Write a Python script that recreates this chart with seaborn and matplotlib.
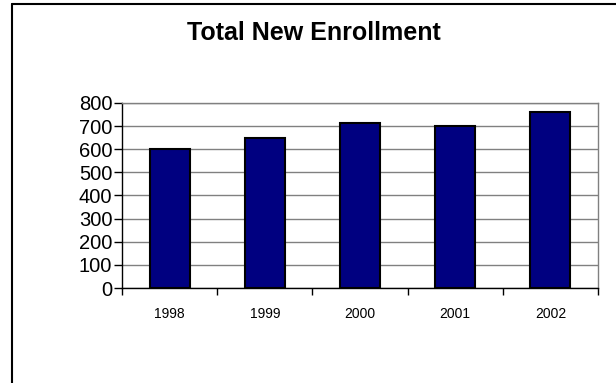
import matplotlib
matplotlib.use("Agg")
import matplotlib.pyplot as plt
from matplotlib.lines import Line2D
import seaborn as sns
import pandas as pd

# Chart data
years = ["1998", "1999", "2000", "2001", "2002"]
enrollment = [600, 650, 712, 702, 762]

sns.set_style("white")
plt.rcParams["font.family"] = ["Liberation Sans", "DejaVu Sans"]
plt.rcParams["text.color"] = "black"
plt.rcParams["xtick.color"] = "black"
plt.rcParams["ytick.color"] = "black"

df = pd.DataFrame({"Year": years, "Enrollment": enrollment})

fig = plt.figure(figsize=(6.16, 3.83), dpi=100)
ax = fig.add_axes([122 / 616, 1 - 288 / 383, (598 - 122) / 616, (288 - 103) / 383])

sns.barplot(data=df, x="Year", y="Enrollment", color="#000080",
            edgecolor="black", linewidth=1.5, width=0.42, saturation=1, ax=ax)

ax.set_xlim(-0.5, len(years) - 0.5)
ax.set_ylim(0, 800)
ax.set_yticks(range(0, 801, 100))
ax.set_xlabel("")
ax.set_ylabel("")

# horizontal gridlines behind bars
ax.set_axisbelow(True)
ax.yaxis.grid(True, color="#808080", linewidth=1)
ax.xaxis.grid(False)

# category ticks at the boundaries, labels at the centres
ax.set_xticks([i - 0.5 for i in range(len(years) + 1)], minor=True)
ax.tick_params(axis="x", which="major", length=0, labelsize=10, pad=14, labelcolor="black")
ax.tick_params(axis="x", which="minor", length=5, width=1, color="black", direction="out")
ax.tick_params(axis="y", which="major", length=6, width=1, color="black", labelsize=14.5,
               pad=1, direction="out", labelcolor="black")
ax.tick_params(bottom=True, left=True, which="both")

for side in ["top", "right"]:
    ax.spines[side].set_color("#808080")
    ax.spines[side].set_linewidth(1)
for side in ["left", "bottom"]:
    ax.spines[side].set_color("black")
    ax.spines[side].set_linewidth(1)

fig.text(314 / 616, 1 - 33 / 383, "Total New Enrollment", ha="center", va="center",
         fontsize=18, fontweight="bold", color="black")

# outer chart frame: only its left and top edges fall inside the picture
x0, y0 = 12 / 616, 1 - 3.5 / 383
fig.add_artist(Line2D([x0, 1], [y0, y0], transform=fig.transFigure, color="black", lw=1.5))
fig.add_artist(Line2D([x0, x0], [0, y0], transform=fig.transFigure, color="black", lw=1.5))

fig.savefig("out.png", dpi=100)
